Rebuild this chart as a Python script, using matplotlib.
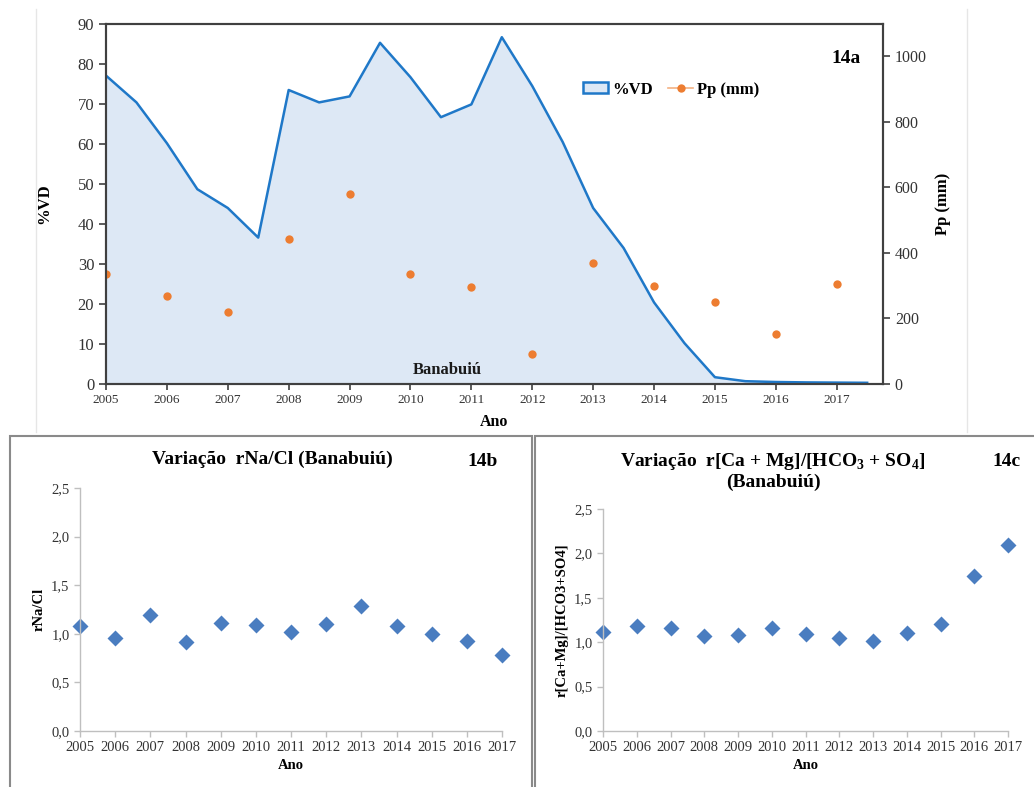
import matplotlib
matplotlib.use("Agg")
import matplotlib.pyplot as plt
from matplotlib.patches import Patch, Rectangle
from matplotlib.lines import Line2D
import numpy as np

plt.rcParams['font.family'] = ['Liberation Serif', 'DejaVu Serif']
plt.rcParams['mathtext.fontset'] = 'custom'
plt.rcParams['mathtext.rm'] = 'Liberation Serif'
plt.rcParams['mathtext.bf'] = 'Liberation Serif:bold'

# reservoir volume (%VD), sampled every half year 2005.0 .. 2017.5
vd_x = [2005.0, 2005.5, 2006.0, 2006.5, 2007.0, 2007.5, 2008.0, 2008.5, 2009.0,
        2009.5, 2010.0, 2010.5, 2011.0, 2011.5, 2012.0, 2012.5, 2013.0, 2013.5,
        2014.0, 2014.5, 2015.0, 2015.5, 2016.0, 2016.5, 2017.0, 2017.5]
vd = [77.1, 70.4, 60.2, 48.7, 44.0, 36.6, 73.5, 70.4, 71.9, 85.3, 76.7, 66.7,
      69.9, 86.7, 74.5, 60.5, 44.0, 34.0, 20.4, 10.2, 1.7, 0.7, 0.5, 0.4, 0.35, 0.3]

anos = [2005, 2006, 2007, 2008, 2009, 2010, 2011, 2012, 2013, 2014, 2015, 2016, 2017]
pp_mm = [337, 268, 219, 441, 579, 336, 295, 90, 368, 300, 251, 154, 304]

r_na_cl = [1.08, 0.96, 1.19, 0.92, 1.11, 1.09, 1.02, 1.10, 1.29, 1.08, 1.00, 0.93, 0.78]
r_camg_hco3so4 = [1.12, 1.18, 1.16, 1.07, 1.08, 1.16, 1.09, 1.05, 1.01, 1.10, 1.21, 1.74, 2.10]

W, H = 1034, 787
fig = plt.figure(figsize=(W / 100, H / 100), dpi=100)


def px_axes(x0, y0, x1, y1):
    # axes rectangle given in pixel coordinates (top-left origin)
    return fig.add_axes([x0 / W, 1 - y1 / H, (x1 - x0) / W, (y1 - y0) / H])


# ---- frames around the panels ----
dark = '#404040'
fig.add_artist(Line2D([36 / W, 36 / W], [1 - 9 / H, 1 - 432 / H], color='#e6e6e6', lw=1))
fig.add_artist(Line2D([967 / W, 967 / W], [1 - 9 / H, 1 - 432 / H], color='#e6e6e6', lw=1))
fig.add_artist(Rectangle((10 / W, -0.05), (532 - 10) / W, 1.05 - 436 / H,
                         transform=fig.transFigure, fill=False, ec='#8a8a8a', lw=1.5))
fig.add_artist(Rectangle((535 / W, -0.05), 0.6, 1.05 - 436 / H,
                         transform=fig.transFigure, fill=False, ec='#8a8a8a', lw=1.5))

# ---- 14a: %VD area + rainfall ----
ax = px_axes(106, 24, 883, 384)
ax.fill_between(vd_x, vd, 0, color='#dde8f5', lw=0)
ax.plot(vd_x, vd, color='#1f78c8', lw=1.8)
ax.set_xlim(2005, 2017.76)
ax.set_ylim(0, 90)
ax.set_yticks(range(0, 91, 10))
ax.set_xticks(anos)
ax.set_xticklabels([str(a) for a in anos], fontsize=9.5, color='#333333')
ax.tick_params(axis='y', labelsize=12, colors=dark, labelcolor='#333333', length=5, width=1.2)
ax.tick_params(axis='x', colors=dark, labelcolor='#333333', length=4, width=1.2, pad=3)
for s in ax.spines.values():
    s.set_color(dark)
    s.set_linewidth(1.5)
ax.set_ylabel('%VD', fontsize=12, fontweight='bold', labelpad=18)
ax.set_xlabel('Ano', fontsize=11.5, fontweight='bold', labelpad=6)
ax.text(0.439, 0.04, 'Banabuiú', transform=ax.transAxes, ha='center', va='center',
        fontsize=12, fontweight='bold', color='#1a1a1a')
ax.text(0.952, 0.905, '14a', transform=ax.transAxes, ha='center', va='center',
        fontsize=14, fontweight='bold')

ax2 = ax.twinx()
ax2.plot(anos, pp_mm, 'o', color='#ed7d31', ms=6, mec='none')
ax2.set_ylim(0, 1098)
ax2.set_yticks(range(0, 1001, 200))
ax2.tick_params(axis='y', labelsize=11.5, colors=dark, labelcolor='#333333', length=5, width=1.2)
for s in ax2.spines.values():
    s.set_color(dark)
    s.set_linewidth(1.5)
ax2.set_ylabel('Pp (mm)', fontsize=12, fontweight='bold', labelpad=6)

handles = [Patch(facecolor='#dde8f5', edgecolor='#1f78c8', lw=1.8),
           Line2D([], [], color='#f4b183', marker='o', mfc='#ed7d31', mec='none', ms=6, lw=1.2)]
leg = ax.legend(handles, ['%VD', 'Pp (mm)'], loc='center left', ncol=2,
                bbox_to_anchor=(0.595, 0.818), frameon=False, fontsize=12,
                handlelength=1.5, handleheight=0.6, columnspacing=0.9, handletextpad=0.25)
for t in leg.get_texts():
    t.set_fontweight('bold')

# ---- shared style for the ratio panels ----
blue = '#4a7dc0'
grey = '#bfbfbf'


def ratio_panel(axr, values, ylabel, title, tag, tag_xy, title_y):
    axr.plot(anos, values, 'D', color=blue, ms=8.5, mec='none', clip_on=False)
    axr.set_xlim(2005, 2017)
    axr.set_ylim(0, 2.5)
    axr.set_xticks(anos)
    axr.set_xticklabels([str(a) for a in anos], fontsize=10.5, color='#333333')
    yt = [0, 0.5, 1.0, 1.5, 2.0, 2.5]
    axr.set_yticks(yt)
    axr.set_yticklabels([f'{v:.1f}'.replace('.', ',') for v in yt], fontsize=10.5, color='#333333')
    axr.tick_params(colors=grey, labelcolor='#333333', length=4, width=1)
    for side in ('top', 'right'):
        axr.spines[side].set_visible(False)
    for side in ('left', 'bottom'):
        axr.spines[side].set_color(grey)
        axr.spines[side].set_linewidth(1)
    axr.set_xlabel('Ano', fontsize=10.5, fontweight='bold', labelpad=3)
    axr.set_ylabel(ylabel, fontsize=10.5, fontweight='bold', labelpad=4)
    fig.text(title[1] / W, 1 - title_y / H, title[0], ha='center', va='center',
             fontsize=14, fontweight='bold', linespacing=1.2)
    fig.text(tag_xy[0] / W, 1 - tag_xy[1] / H, tag, ha='center', va='center',
             fontsize=14, fontweight='bold')


axb = px_axes(80, 488, 502, 731)
ratio_panel(axb, r_na_cl, 'rNa/Cl', ('Variação  rNa/Cl (Banabuiú)', 272),
            '14b', (483, 462), 459)

axc = px_axes(603, 509, 1008, 731)
ratio_panel(axc, r_camg_hco3so4, 'r[Ca+Mg]/[HCO3+SO4]',
            ('Variação  r[Ca + Mg]/[HCO$_\\mathbf{3}$ + SO$_\\mathbf{4}$]\n(Banabuiú)', 773),
            '14c', (1007, 462), 471)

fig.savefig('out.png', dpi=100)
